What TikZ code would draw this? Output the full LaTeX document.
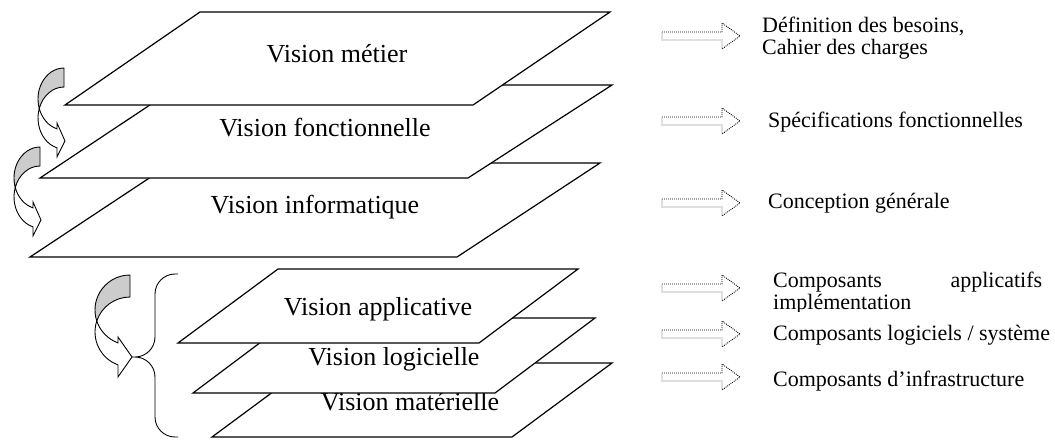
\documentclass[tikz,border=0pt]{standalone}
\usepackage{fontspec}
\setmainfont{Liberation Serif}
\usetikzlibrary{calc}
\definecolor{backgray}{gray}{0.8}
\def\drawplane{\draw[line width=1.2pt,fill=white]}
\def\drawback{\draw[line width=0.9pt,fill=backgray]}
\def\drawfront{\draw[line width=0.9pt,fill=white]}
\def\drawhint{\draw[line width=0.9pt,dash pattern=on 0.9pt off 1.1pt]}
\def\planefont{\fontsize{26}{31}\selectfont}
\def\notefont{\fontsize{22}{26}\selectfont}
% dotted block arrow pointing at a note, #1 is its tail
\def\hintarrow(#1){\drawhint ($ (#1) + (0,-4) $) -- ($ (#1) + (60,-4) $) -- ($ (#1) + (60,-13) $) -- ($ (#1) + (78,0) $) -- ($ (#1) + (60,13) $) -- ($ (#1) + (60,4) $) -- ($ (#1) + (0,4) $) -- cycle;}

\begin{document}
\begin{tikzpicture}[x=1pt,y=-1pt,inner sep=0pt,
  planelabel/.style={font=\planefont,anchor=base},
  note/.style={font=\notefont,anchor=base west}]
\useasboundingbox (0,0) rectangle (1055,440);

% ---------- the three upper planes, drawn from the bottom one up
\drawplane (172,163) -- (600,163) -- (457,257) -- (30,257) -- cycle;
\node[planelabel] (info) at (315,213) {Vision informatique};
\drawplane (180,85) -- (612,85) -- (468,178) -- (40,178) -- cycle;
\node[planelabel] (fonct) at (325,136) {Vision fonctionnelle};
\drawplane (200,12) -- (610,12) -- (473,105) -- (65,105) -- cycle;
\node[planelabel] (metier) at (337,62) {Vision métier};

% ---------- the three lower planes
\drawplane (312,363) -- (612,363) -- (512,437) -- (212,437) -- cycle;
\node[planelabel] (mater) at (410,410) {Vision matérielle};
\drawplane (293,318) -- (595,318) -- (495,393) -- (193,393) -- cycle;
\node[planelabel] (logi) at (394,365) {Vision logicielle};
\drawplane (278,269) -- (578,269) -- (479,343) -- (178,343) -- cycle;
\node[planelabel] (appli) at (378,315) {Vision applicative};

% ---------- curved arrow metier -> fonctionnelle
\coordinate (o) at (64,68); % top right corner of the shaded back
\drawback (o) arc[start angle=90,end angle=197.85,x radius=26pt,y radius=31pt]
  arc[start angle=162.15,end angle=90,x radius=26pt,y radius=31pt] -- cycle;
\drawfront ($ (o) + (-24.75,40.5) $) arc[start angle=162.15,end angle=254.3,x radius=26pt,y radius=31pt]
  -- ++(0,9) -- ($ (o) + (1,73) $) -- ($ (o) + (-7,55) $) -- ($ (o) + (-7.04,60.84) $)
  arc[start angle=254.3,end angle=197.85,x radius=26pt,y radius=31pt] -- cycle;

% ---------- curved arrow fonctionnelle -> informatique
\coordinate (o) at (40,147);
\drawback (o) arc[start angle=90,end angle=197.85,x radius=26pt,y radius=31pt]
  arc[start angle=162.15,end angle=90,x radius=26pt,y radius=31pt] -- cycle;
\drawfront ($ (o) + (-24.75,40.5) $) arc[start angle=162.15,end angle=254.3,x radius=26pt,y radius=31pt]
  -- ++(0,9) -- ($ (o) + (1,73) $) -- ($ (o) + (-7,55) $) -- ($ (o) + (-7.04,60.84) $)
  arc[start angle=254.3,end angle=197.85,x radius=26pt,y radius=31pt] -- cycle;

% ---------- brace round the lower planes and its arrow
\coordinate (bracetip) at (132,357);
\draw[line width=0.9pt,rounded corners=20pt] (178,274) -- (155,274) -- (155,357) -- (bracetip)
  (bracetip) -- (155,357) -- (155,437) -- (178,437);
\coordinate (o) at (130,275);
\drawback (o) arc[start angle=90,end angle=198.32,x radius=35pt,y radius=35pt]
  arc[start angle=161.68,end angle=90,x radius=35pt,y radius=35pt] -- cycle;
\drawfront ($ (o) + (-33.22,46) $) arc[start angle=161.68,end angle=250,x radius=35pt,y radius=35pt]
  -- ++(0,12) -- (bracetip) -- ($ (o) + (-12,62) $) -- ($ (o) + (-11.97,67.89) $)
  arc[start angle=250,end angle=198.32,x radius=35pt,y radius=35pt] -- cycle;

% ---------- notes on the right
\coordinate (hbesoins) at (662,36);
\coordinate (hspec) at (662,121);
\coordinate (hconc) at (662,203);
\coordinate (happ) at (662,288);
\coordinate (hlog) at (662,334);
\coordinate (hinfra) at (662,377);
\hintarrow(hbesoins)
\hintarrow(hspec)
\hintarrow(hconc)
\hintarrow(happ)
\hintarrow(hlog)
\hintarrow(hinfra)
\node[note] (rbesoins) at (762,32) {Définition des besoins,};
\node[note] (rcahier) at (762,54) {Cahier des charges};
\node[note] (rspec) at (768,127) {Spécifications fonctionnelles};
\node[note] (rconc) at (768,208) {Conception générale};
\node[note] (rcompapp) at (773,287) {\makebox[269pt][s]{Composants applicatifs}};
\begin{scope}
\clip (760,293) rectangle (1055,311);
\node[note] (rimpl) at (773,309) {implémentation};
\end{scope}
\node[note] (rlog) at (773,340) {Composants logiciels / système};
\node[note] (rinfra) at (773,386) {Composants d’infrastructure};
\end{tikzpicture}
\end{document}
